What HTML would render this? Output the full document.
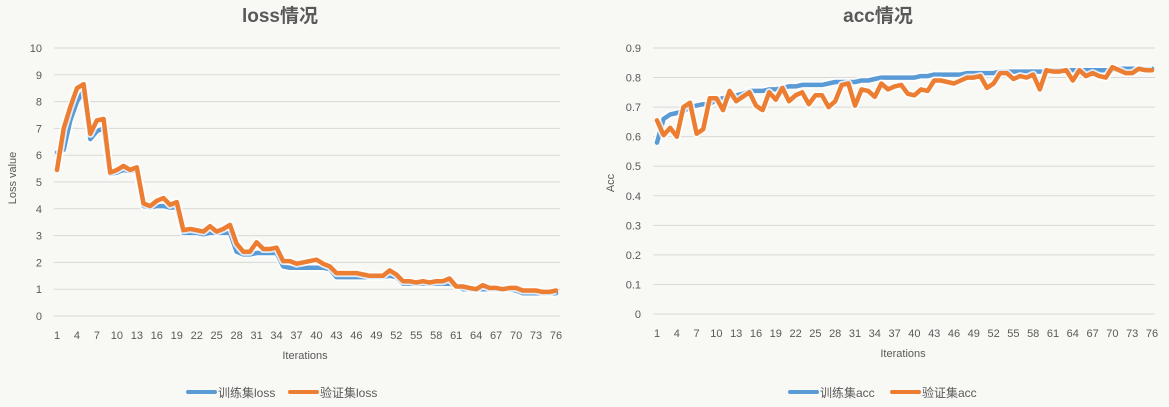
<!DOCTYPE html>
<html><head><meta charset="utf-8"><style>
body{margin:0;background:#f8f8f4;}
svg{display:block;font-family:"Liberation Sans","Noto Sans CJK SC",sans-serif;}
</style></head><body>
<svg id="s" width="1169" height="407" xmlns="http://www.w3.org/2000/svg">
<rect width="1169" height="407" fill="#f8f8f4"/>
</svg>
<script>
const NS="http://www.w3.org/2000/svg",S=document.getElementById('s');
function el(t,a,txt){const e=document.createElementNS(NS,t);for(const k in a)e.setAttribute(k,a[k]);if(txt!=null)e.textContent=txt;S.appendChild(e);return e;}
const lt=[6.1,6.2,7.3,8.0,8.4,6.6,6.9,7.0,5.3,5.35,5.45,5.4,5.45,4.1,4.05,4.1,4.1,4.05,4.05,3.1,3.1,3.1,3.05,3.1,3.1,3.1,3.1,2.4,2.3,2.3,2.35,2.35,2.35,2.35,1.85,1.8,1.8,1.8,1.8,1.8,1.8,1.75,1.45,1.45,1.45,1.45,1.45,1.45,1.45,1.45,1.5,1.45,1.2,1.2,1.2,1.2,1.2,1.2,1.2,1.2,1.15,1.0,1.0,1.0,1.0,1.0,1.0,1.0,1.0,0.95,0.85,0.85,0.85,0.85,0.85,0.85];
const lv=[5.45,7.0,7.8,8.5,8.65,6.8,7.3,7.35,5.35,5.45,5.6,5.45,5.55,4.2,4.1,4.3,4.4,4.15,4.25,3.2,3.25,3.2,3.15,3.35,3.15,3.25,3.4,2.7,2.4,2.4,2.75,2.5,2.5,2.55,2.05,2.05,1.95,2.0,2.05,2.1,1.95,1.85,1.6,1.6,1.6,1.6,1.55,1.5,1.5,1.5,1.7,1.55,1.3,1.3,1.25,1.3,1.25,1.3,1.3,1.4,1.1,1.1,1.05,1.0,1.15,1.05,1.05,1.0,1.05,1.05,0.95,0.95,0.95,0.9,0.9,0.95];
const at=[0.58,0.66,0.675,0.68,0.685,0.7,0.705,0.71,0.71,0.725,0.73,0.735,0.74,0.745,0.755,0.755,0.755,0.76,0.76,0.765,0.77,0.77,0.775,0.775,0.775,0.775,0.78,0.785,0.785,0.785,0.785,0.79,0.79,0.795,0.8,0.8,0.8,0.8,0.8,0.8,0.805,0.805,0.81,0.81,0.81,0.81,0.81,0.815,0.815,0.815,0.815,0.815,0.82,0.82,0.82,0.82,0.82,0.82,0.82,0.82,0.825,0.825,0.825,0.825,0.825,0.825,0.825,0.825,0.825,0.825,0.83,0.83,0.83,0.83,0.83,0.83];
const av=[0.655,0.605,0.63,0.6,0.7,0.715,0.61,0.625,0.73,0.73,0.69,0.755,0.72,0.735,0.75,0.705,0.69,0.75,0.725,0.765,0.72,0.74,0.75,0.71,0.74,0.74,0.7,0.72,0.775,0.78,0.705,0.76,0.755,0.735,0.78,0.76,0.77,0.775,0.745,0.74,0.76,0.755,0.79,0.79,0.785,0.78,0.79,0.8,0.8,0.805,0.765,0.78,0.815,0.815,0.795,0.805,0.8,0.81,0.76,0.825,0.82,0.82,0.825,0.79,0.825,0.805,0.815,0.805,0.8,0.835,0.825,0.815,0.815,0.83,0.825,0.825];
function chart(o){
  const {gx0,gx1,x1,x76,yTop,yBot,max,steps,fmt,series,title,tx,ylab,ylx,yly,xlx,xly,tickY,ylabX,legX}=o;
  el('text',{x:tx,y:22,'text-anchor':'middle','font-size':19,'font-weight':'bold',fill:'#595959'},title);
  for(let i=0;i<=steps;i++){const y=yBot-(yBot-yTop)*i/steps;
    el('line',{x1:gx0,x2:gx1,y1:y,y2:y,stroke:'#d9d9d9','stroke-width':1});
    el('text',{x:ylabX,y:y+4,'text-anchor':'end','font-size':11,fill:'#595959'},fmt(max*i/steps));}
  const X=i=>x1+(x76-x1)*i/75;
  for(let i=0;i<76;i+=3)el('text',{x:X(i),y:tickY,'text-anchor':'middle','font-size':11,fill:'#595959'},String(i+1));
  el('text',{x:xlx,y:xly,'text-anchor':'middle','font-size':11,fill:'#595959'},'Iterations');
  el('text',{x:ylx,y:yly,'text-anchor':'middle','font-size':11,fill:'#595959',transform:`rotate(-90 ${ylx} ${yly})`},ylab);
  series.forEach(s=>{const pts=s.d.map((v,i)=>X(i).toFixed(1)+','+(yBot-(yBot-yTop)*v/max).toFixed(1)).join(' ');
    el('polyline',{points:pts,fill:'none',stroke:'#ffffff','stroke-width':8,'stroke-linejoin':'round',opacity:0.8});
    el('polyline',{points:pts,fill:'none',stroke:s.c,'stroke-width':4.5,'stroke-linejoin':'round','stroke-linecap':'round'});});
  series.forEach((s,k)=>{const lx=legX+k*102;
    el('line',{x1:lx,x2:lx+27,y1:392,y2:392,stroke:s.c,'stroke-width':4,'stroke-linecap':'round'});
    el('text',{x:lx+30,y:397,'font-size':12,fill:'#595959'},s.n);});
}
chart({gx0:54,gx1:560,x1:57,x76:556,yTop:48,yBot:316,max:10,steps:10,fmt:v=>String(Math.round(v)),
  series:[{d:lt,c:'#5b9bd5',n:'训练集loss'},{d:lv,c:'#ed7d31',n:'验证集loss'}],
  title:'loss情况',tx:280,ylab:'Loss value',ylx:16,yly:178,xlx:305,xly:359,tickY:339,ylabX:42,legX:188});
chart({gx0:653,gx1:1155,x1:657,x76:1152,yTop:48,yBot:314,max:0.9,steps:9,fmt:v=>{const r=Math.round(v*10)/10;return r===0?'0':r.toFixed(1);},
  series:[{d:at,c:'#5b9bd5',n:'训练集acc'},{d:av,c:'#ed7d31',n:'验证集acc'}],
  title:'acc情况',tx:878,ylab:'Acc',ylx:614,yly:183,xlx:903,xly:357,tickY:337,ylabX:641,legX:790});
</script>
</body></html>
